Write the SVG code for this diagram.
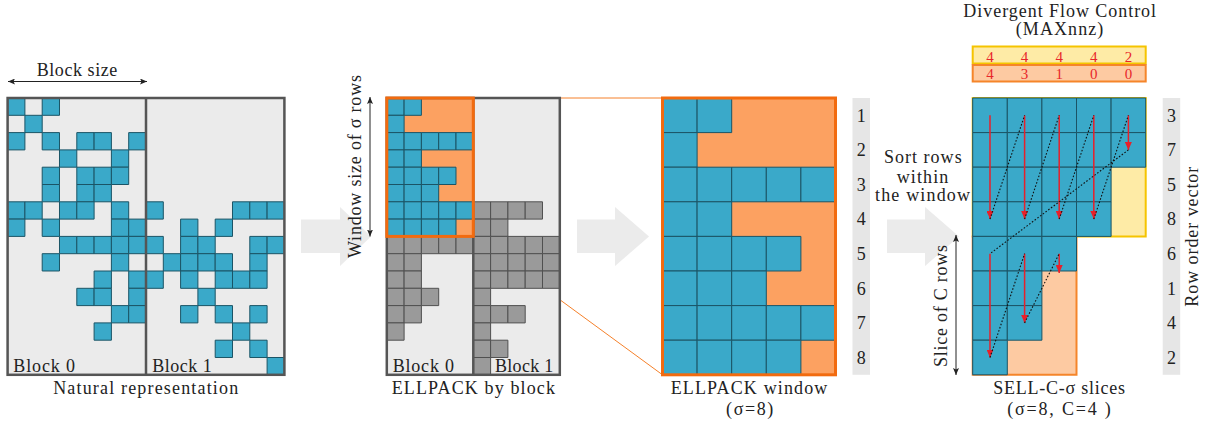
<svg xmlns="http://www.w3.org/2000/svg" width="1210" height="423" viewBox="0 0 1210 423">
<style>
text{font-family:'Liberation Serif','DejaVu Serif',serif;font-size:18px;fill:#222}
.tc{fill:#3aa9c9;stroke:#1b5466;stroke-width:1;vector-effect:non-scaling-stroke}
.gc{fill:#9a9a9a;stroke:#505050;stroke-width:1;vector-effect:non-scaling-stroke}
.frame{fill:none;stroke:#555;stroke-width:2.5}
.bg{fill:#ebebeb}
.band{fill:#e6e6e6}
.mid{text-anchor:middle}
.red{fill:#e8262a;font-size:15px;text-anchor:middle}
.ra{stroke:#e8202a;stroke-width:1.5;fill:none;marker-end:url(#rh)}
.dot{stroke:#111;stroke-width:1.1;stroke-dasharray:1.6 1.8;fill:none}
.da{stroke:#222;stroke-width:1;fill:none;marker-start:url(#bh);marker-end:url(#bh)}
.bigarrow{fill:#ebebeb}
.zl{stroke:#f5802a;stroke-width:1;fill:none}
</style>
<defs>
<rect id="t" width="1" height="1" class="tc"/>
<rect id="g" width="1" height="1" class="gc"/>
<marker id="rh" markerUnits="userSpaceOnUse" markerWidth="9" markerHeight="7" refX="8" refY="3.5" orient="auto"><path d="M0,0 L8,3.5 L0,7 z" fill="#e8202a"/></marker>
<marker id="bh" markerUnits="userSpaceOnUse" markerWidth="8" markerHeight="6" refX="7" refY="3" orient="auto-start-reverse"><path d="M0,0 L7,3 L0,6 L1.5,3 z" fill="#222"/></marker>
</defs>

<g id="connectors">
<polygon class="bigarrow" points="301,219.5 340,219.5 340,207 371,236.5 340,266 340,253 301,253"/>
<polygon class="bigarrow" points="577,219.5 615,219.5 615,207 649,236.5 615,266 615,253 577,253"/>
<polygon class="bigarrow" points="887,219.5 925,219.5 925,207 959,236.5 925,266 925,253 887,253"/>
<line class="zl" x1="473.3" y1="98" x2="662.5" y2="98"/>
<line class="zl" x1="473.3" y1="236.4" x2="662.5" y2="374.8"/>
<line class="da" x1="8" y1="81.5" x2="147" y2="81.5"/>
<line class="da" x1="370" y1="97" x2="370" y2="236.5"/>
<line class="da" x1="956" y1="235" x2="956" y2="375"/>
</g>

<g id="natural">
<rect class="bg" x="7.6" y="98" width="276.8" height="276.8"/>
<g transform="translate(7.6,98) scale(17.3)">
<use href="#t" x="0" y="0"/><use href="#t" x="2" y="0"/>
<use href="#t" x="1" y="1"/>
<use href="#t" x="0" y="2"/><use href="#t" x="2" y="2"/><use href="#t" x="4" y="2"/><use href="#t" x="5" y="2"/><use href="#t" x="7" y="2"/>
<use href="#t" x="3" y="3"/><use href="#t" x="6" y="3"/>
<use href="#t" x="2" y="4"/><use href="#t" x="4" y="4"/><use href="#t" x="5" y="4"/><use href="#t" x="6" y="4"/>
<use href="#t" x="2" y="5"/><use href="#t" x="4" y="5"/><use href="#t" x="5" y="5"/>
<use href="#t" x="0" y="6"/><use href="#t" x="1" y="6"/><use href="#t" x="3" y="6"/><use href="#t" x="4" y="6"/><use href="#t" x="6" y="6"/><use href="#t" x="8" y="6"/><use href="#t" x="13" y="6"/><use href="#t" x="14" y="6"/><use href="#t" x="15" y="6"/>
<use href="#t" x="0" y="7"/><use href="#t" x="2" y="7"/><use href="#t" x="6" y="7"/><use href="#t" x="7" y="7"/><use href="#t" x="10" y="7"/><use href="#t" x="12" y="7"/>
<use href="#t" x="3" y="8"/><use href="#t" x="4" y="8"/><use href="#t" x="5" y="8"/><use href="#t" x="6" y="8"/><use href="#t" x="7" y="8"/><use href="#t" x="8" y="8"/><use href="#t" x="10" y="8"/><use href="#t" x="11" y="8"/><use href="#t" x="14" y="8"/><use href="#t" x="15" y="8"/>
<use href="#t" x="2" y="9"/><use href="#t" x="6" y="9"/><use href="#t" x="9" y="9"/><use href="#t" x="10" y="9"/><use href="#t" x="11" y="9"/><use href="#t" x="12" y="9"/><use href="#t" x="14" y="9"/>
<use href="#t" x="5" y="10"/><use href="#t" x="7" y="10"/><use href="#t" x="8" y="10"/><use href="#t" x="10" y="10"/><use href="#t" x="12" y="10"/><use href="#t" x="13" y="10"/><use href="#t" x="14" y="10"/>
<use href="#t" x="4" y="11"/><use href="#t" x="5" y="11"/><use href="#t" x="7" y="11"/><use href="#t" x="11" y="11"/>
<use href="#t" x="6" y="12"/><use href="#t" x="7" y="12"/><use href="#t" x="10" y="12"/><use href="#t" x="12" y="12"/><use href="#t" x="14" y="12"/>
<use href="#t" x="5" y="13"/><use href="#t" x="13" y="13"/>
<use href="#t" x="12" y="14"/><use href="#t" x="14" y="14"/>
<use href="#t" x="15" y="15"/>
</g>
<rect class="frame" x="7.6" y="98" width="276.8" height="276.8"/>
<line class="frame" x1="146" y1="98" x2="146" y2="374.8"/>
<text x="13.3" y="371.5" textLength="61.7">Block 0</text>
<text x="152.3" y="371.5" textLength="59.4">Block 1</text>
<text x="77" y="76" class="mid" textLength="80.7">Block size</text>
<text x="145.7" y="394.3" class="mid" textLength="185">Natural representation</text>
</g>

<g id="ellpack-block">
<rect class="bg" x="386.8" y="98" width="173" height="276.8"/>
<g transform="translate(386.8,98) scale(17.3)">
<rect x="0" y="0" width="5" height="8" fill="#fca161"/>
<use href="#t" x="0" y="0"/><use href="#t" x="1" y="0"/>
<use href="#t" x="0" y="1"/>
<use href="#t" x="0" y="2"/><use href="#t" x="1" y="2"/><use href="#t" x="2" y="2"/><use href="#t" x="3" y="2"/><use href="#t" x="4" y="2"/>
<use href="#t" x="0" y="3"/><use href="#t" x="1" y="3"/>
<use href="#t" x="0" y="4"/><use href="#t" x="1" y="4"/><use href="#t" x="2" y="4"/><use href="#t" x="3" y="4"/>
<use href="#t" x="0" y="5"/><use href="#t" x="1" y="5"/><use href="#t" x="2" y="5"/>
<use href="#t" x="0" y="6"/><use href="#t" x="1" y="6"/><use href="#t" x="2" y="6"/><use href="#t" x="3" y="6"/><use href="#t" x="4" y="6"/>
<use href="#t" x="0" y="7"/><use href="#t" x="1" y="7"/><use href="#t" x="2" y="7"/><use href="#t" x="3" y="7"/>
<use href="#g" x="0" y="8"/><use href="#g" x="1" y="8"/><use href="#g" x="2" y="8"/><use href="#g" x="3" y="8"/><use href="#g" x="4" y="8"/>
<use href="#g" x="0" y="9"/><use href="#g" x="1" y="9"/>
<use href="#g" x="0" y="10"/><use href="#g" x="1" y="10"/>
<use href="#g" x="0" y="11"/><use href="#g" x="1" y="11"/><use href="#g" x="2" y="11"/>
<use href="#g" x="0" y="12"/><use href="#g" x="1" y="12"/>
<use href="#g" x="0" y="13"/>
<use href="#g" x="5" y="6"/><use href="#g" x="6" y="6"/><use href="#g" x="7" y="6"/><use href="#g" x="8" y="6"/>
<use href="#g" x="5" y="7"/><use href="#g" x="6" y="7"/>
<use href="#g" x="5" y="8"/><use href="#g" x="6" y="8"/><use href="#g" x="7" y="8"/><use href="#g" x="8" y="8"/><use href="#g" x="9" y="8"/>
<use href="#g" x="5" y="9"/><use href="#g" x="6" y="9"/><use href="#g" x="7" y="9"/><use href="#g" x="8" y="9"/><use href="#g" x="9" y="9"/>
<use href="#g" x="5" y="10"/><use href="#g" x="6" y="10"/><use href="#g" x="7" y="10"/><use href="#g" x="8" y="10"/><use href="#g" x="9" y="10"/>
<use href="#g" x="5" y="11"/>
<use href="#g" x="5" y="12"/><use href="#g" x="6" y="12"/><use href="#g" x="7" y="12"/>
<use href="#g" x="5" y="13"/>
<use href="#g" x="5" y="14"/><use href="#g" x="6" y="14"/>
<use href="#g" x="5" y="15"/>
</g>
<rect class="frame" x="386.8" y="98" width="173" height="276.8"/>
<line class="frame" x1="473.3" y1="98" x2="473.3" y2="374.8"/>
<rect x="386.8" y="98" width="86.5" height="138.4" fill="none" stroke="#f26b0f" stroke-width="3"/>
<text x="392.7" y="371.5" textLength="61.3">Block 0</text>
<text x="495" y="371.5" textLength="58.3">Block 1</text>
<text x="473.3" y="393.5" class="mid" textLength="163.3">ELLPACK by block</text>
<text transform="translate(361,166.5) rotate(-90)" class="mid" textLength="183">Window size of σ rows</text>
</g>

<g id="ellpack-window">
<g transform="translate(662.5,98) scale(34.6)">
<rect x="0" y="0" width="5" height="8" fill="#fca161"/>
<use href="#t" x="0" y="0"/><use href="#t" x="1" y="0"/>
<use href="#t" x="0" y="1"/>
<use href="#t" x="0" y="2"/><use href="#t" x="1" y="2"/><use href="#t" x="2" y="2"/><use href="#t" x="3" y="2"/><use href="#t" x="4" y="2"/>
<use href="#t" x="0" y="3"/><use href="#t" x="1" y="3"/>
<use href="#t" x="0" y="4"/><use href="#t" x="1" y="4"/><use href="#t" x="2" y="4"/><use href="#t" x="3" y="4"/>
<use href="#t" x="0" y="5"/><use href="#t" x="1" y="5"/><use href="#t" x="2" y="5"/>
<use href="#t" x="0" y="6"/><use href="#t" x="1" y="6"/><use href="#t" x="2" y="6"/><use href="#t" x="3" y="6"/><use href="#t" x="4" y="6"/>
<use href="#t" x="0" y="7"/><use href="#t" x="1" y="7"/><use href="#t" x="2" y="7"/><use href="#t" x="3" y="7"/>
</g>
<rect x="662.5" y="98" width="173" height="276.8" fill="none" stroke="#f26b0f" stroke-width="3"/>
<rect class="band" x="852.5" y="98" width="17.5" height="276.8"/>
<text x="861.2" y="121.5" class="mid">1</text>
<text x="861.2" y="156.1" class="mid">2</text>
<text x="861.2" y="190.7" class="mid">3</text>
<text x="861.2" y="225.3" class="mid">4</text>
<text x="861.2" y="259.9" class="mid">5</text>
<text x="861.2" y="294.5" class="mid">6</text>
<text x="861.2" y="329.1" class="mid">7</text>
<text x="861.2" y="363.7" class="mid">8</text>
<text x="749" y="394.3" class="mid" textLength="156.7">ELLPACK window</text>
<text x="749.7" y="415" class="mid" textLength="47.3">(σ=8)</text>
</g>

<g id="sell">
<g transform="translate(972.7,98) scale(34.6)">
<rect x="0" y="0" width="5" height="4" fill="#feeba6" stroke="#f5c400" stroke-width="2" style="vector-effect:non-scaling-stroke"/>
<rect x="0" y="4" width="3" height="4" fill="#fdcaa2" stroke="#f5852a" stroke-width="2" style="vector-effect:non-scaling-stroke"/>
<use href="#t" x="0" y="0"/><use href="#t" x="1" y="0"/><use href="#t" x="2" y="0"/><use href="#t" x="3" y="0"/><use href="#t" x="4" y="0"/>
<use href="#t" x="0" y="1"/><use href="#t" x="1" y="1"/><use href="#t" x="2" y="1"/><use href="#t" x="3" y="1"/><use href="#t" x="4" y="1"/>
<use href="#t" x="0" y="2"/><use href="#t" x="1" y="2"/><use href="#t" x="2" y="2"/><use href="#t" x="3" y="2"/>
<use href="#t" x="0" y="3"/><use href="#t" x="1" y="3"/><use href="#t" x="2" y="3"/><use href="#t" x="3" y="3"/>
<use href="#t" x="0" y="4"/><use href="#t" x="1" y="4"/><use href="#t" x="2" y="4"/>
<use href="#t" x="0" y="5"/><use href="#t" x="1" y="5"/>
<use href="#t" x="0" y="6"/><use href="#t" x="1" y="6"/>
<use href="#t" x="0" y="7"/>
</g>
<g id="flow">
<line class="ra" x1="990" y1="115.3" x2="990" y2="219.1"/>
<line class="ra" x1="1024.6" y1="115.3" x2="1024.6" y2="219.1"/>
<line class="ra" x1="1059.2" y1="115.3" x2="1059.2" y2="219.1"/>
<line class="ra" x1="1093.8" y1="115.3" x2="1093.8" y2="219.1"/>
<line class="ra" x1="1128.4" y1="115.3" x2="1128.4" y2="149.9"/>
<line class="dot" x1="990" y1="219.1" x2="1024.6" y2="115.3"/>
<line class="dot" x1="1024.6" y1="219.1" x2="1059.2" y2="115.3"/>
<line class="dot" x1="1059.2" y1="219.1" x2="1093.8" y2="115.3"/>
<line class="dot" x1="1093.8" y1="219.1" x2="1128.4" y2="115.3"/>
<line class="dot" x1="1128.4" y1="149.9" x2="990" y2="253.7"/>
<line class="ra" x1="990" y1="253.7" x2="990" y2="357.5"/>
<line class="ra" x1="1024.6" y1="253.7" x2="1024.6" y2="322.9"/>
<line class="ra" x1="1059.2" y1="253.7" x2="1059.2" y2="273"/>
<line class="dot" x1="990" y1="357.5" x2="1024.6" y2="253.7"/>
<line class="dot" x1="1024.6" y1="322.9" x2="1059.2" y2="253.7"/>
</g>
<rect class="band" x="1162.7" y="98" width="17.5" height="276.8"/>
<text x="1171.4" y="121.5" class="mid">3</text>
<text x="1171.4" y="156.1" class="mid">7</text>
<text x="1171.4" y="190.7" class="mid">5</text>
<text x="1171.4" y="225.3" class="mid">8</text>
<text x="1171.4" y="259.9" class="mid">6</text>
<text x="1171.4" y="294.5" class="mid">1</text>
<text x="1171.4" y="329.1" class="mid">4</text>
<text x="1171.4" y="363.7" class="mid">2</text>
<text transform="translate(1198,236.7) rotate(-90)" class="mid" textLength="140">Row order vector</text>
<text transform="translate(947,306) rotate(-90)" class="mid" textLength="122">Slice of C rows</text>
<text x="922.8" y="163.3" class="mid" textLength="77.7">Sort rows</text>
<text x="922.5" y="182.7" class="mid" textLength="51.7">within</text>
<text x="922.5" y="201" class="mid" textLength="95">the window</text>
<text x="1059.2" y="394.3" class="mid" textLength="131.7">SELL-C-σ slices</text>
<text x="1059" y="415" class="mid" textLength="103.4">(σ=8, C=4 )</text>
</g>

<g id="maxnnz">
<rect x="972.7" y="46.5" width="173" height="17" fill="#feeba6" stroke="#f5c400" stroke-width="2"/>
<rect x="972.7" y="65" width="173" height="16.5" fill="#fdcaa2" stroke="#f5852a" stroke-width="2"/>
<text class="red" x="990" y="61.5">4</text>
<text class="red" x="1024.6" y="61.5">4</text>
<text class="red" x="1059.2" y="61.5">4</text>
<text class="red" x="1093.8" y="61.5">4</text>
<text class="red" x="1128.4" y="61.5">2</text>
<text class="red" x="990" y="78.5">4</text>
<text class="red" x="1024.6" y="78.5">3</text>
<text class="red" x="1059.2" y="78.5">1</text>
<text class="red" x="1093.8" y="78.5">0</text>
<text class="red" x="1128.4" y="78.5">0</text>
<text x="1059.7" y="17" class="mid" textLength="192.7">Divergent Flow Control</text>
<text x="1059.5" y="35" class="mid" textLength="87.6">(MAXnnz)</text>
</g>
</svg>
